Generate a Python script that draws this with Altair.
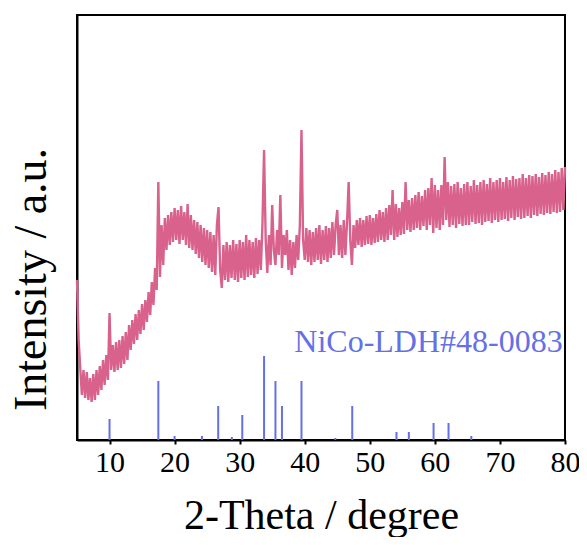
import altair as alt
import pandas as pd

# ---------------- data ----------------
# measured XRD pattern, sampled every 0.25 degree from 5 to 80 (2-Theta)
two_theta_start = 5.0
two_theta_step = 0.25
intensity = [
    # 5.00 - 9.75
    160, 100, 72, 45, 70, 42, 68, 40, 62, 38, 66, 40, 70, 45, 74, 50, 80, 55, 85, 60,
    # 10.00 - 14.75
    127, 70, 95, 68, 98, 70, 100, 72, 104, 76, 108, 80, 115, 90, 120, 96, 126, 100, 130, 106,
    # 15.00 - 19.75
    136, 110, 140, 118, 148, 125, 158, 135, 172, 150, 258, 163, 215, 175, 222, 190, 225, 195, 228, 198,
    # 20.00 - 24.75
    232, 200, 230, 196, 234, 200, 228, 195, 236, 192, 225, 190, 220, 186, 218, 182, 215, 178, 212, 175,
    # 25.00 - 29.75
    210, 172, 208, 168, 205, 165, 215, 233, 170, 152, 195, 160, 198, 158, 195, 162, 200, 160, 196, 158,
    # 30.00 - 34.75
    200, 162, 198, 160, 205, 163, 200, 165, 198, 162, 202, 166, 200, 170, 215, 290, 200, 167, 205, 175,
    # 35.00 - 39.75
    235, 190, 175, 210, 185, 245, 172, 205, 185, 210, 170, 200, 165, 198, 172, 205, 180, 215, 310, 200,
    # 40.00 - 44.75
    180, 212, 178, 210, 175, 208, 178, 212, 180, 215, 176, 210, 180, 214, 178, 212, 182, 218, 185, 215,
    # 45.00 - 49.75
    230, 185, 215, 182, 220, 185, 218, 258, 200, 175, 215, 192, 220, 195, 222, 193, 220, 195, 224, 196,
    # 50.00 - 54.75
    225, 195, 222, 197, 226, 198, 230, 200, 228, 198, 232, 200, 235, 205, 250, 200, 236, 203, 232, 205,
    # 55.00 - 59.75
    238, 206, 258, 210, 240, 208, 242, 210, 245, 212, 248, 210, 244, 214, 250, 210, 252, 215, 262, 207,
    # 60.00 - 64.75
    255, 212, 250, 210, 255, 215, 283, 220, 258, 213, 254, 215, 256, 212, 258, 216, 252, 214, 256, 215,
    # 65.00 - 69.75
    258, 215, 254, 218, 260, 216, 255, 217, 258, 215, 260, 218, 256, 219, 262, 217, 258, 220, 260, 218,
    # 70.00 - 74.75
    262, 220, 258, 221, 263, 219, 260, 222, 264, 220, 261, 223, 262, 221, 266, 222, 262, 224, 265, 222,
    # 75.00 - 79.75
    264, 225, 266, 224, 263, 226, 267, 225, 265, 227, 268, 226, 266, 228, 270, 227, 268, 228, 272, 230,
    # 80.00
    273,
]
two_theta = [two_theta_start + two_theta_step * i for i in range(len(intensity))]

# standard card NiCo-LDH #48-0083 reference lines
ref_positions = [10.0, 17.5, 20.0, 24.2, 26.7, 28.8, 30.4, 33.75, 35.5, 36.5,
                 39.5, 44.7, 47.3, 54.1, 56.0, 59.8, 62.1, 65.6]
ref_heights = [21, 59, 4, 4, 34, 3, 25, 84, 59, 34,
               59, 2, 34, 8, 8, 17, 17, 4]

label_text = ["NiCo-LDH#48-0083"]
label_x = [38.4]
label_y = [88]

x_ticks = [10, 15, 20, 25, 30, 35, 40, 45, 50, 55, 60, 65, 70, 75, 80]

# ---------------- chart ----------------
pattern_df = pd.DataFrame({"two_theta": two_theta, "intensity": intensity})
ref_df = pd.DataFrame({"two_theta": ref_positions, "height": ref_heights, "base": [0] * len(ref_positions)})
label_df = pd.DataFrame({"text": label_text, "x": label_x, "y": label_y})

FONT = "Liberation Serif"
PINK = "#D9628C"
BLUE = "#6470E6"

x_scale = alt.Scale(domain=[5, 80], nice=False, zero=False)
y_scale = alt.Scale(domain=[0, 425], nice=False, zero=False)

x_axis = alt.Axis(
    title="2-Theta / degree",
    values=x_ticks,
    labelExpr="datum.value % 10 == 0 ? datum.label : ''",
    grid=False,
    tickSize=4,
    tickWidth=2,
    tickColor="black",
    domainColor="black",
    domainWidth=2,
    labelFont=FONT,
    labelFontSize=30,
    labelColor="black",
    labelPadding=3,
    labelFlush=False,
    labelOverlap=False,
    titleFont=FONT,
    titleFontSize=42,
    titleFontWeight="normal",
    titleColor="black",
    titleBaseline="alphabetic",
    titleY=88,
)
y_axis = alt.Axis(
    title="Intensity / a.u.",
    labels=False,
    ticks=False,
    grid=False,
    domainColor="black",
    domainWidth=2,
    titleFont=FONT,
    titleFontSize=46,
    titleFontWeight="normal",
    titleColor="black",
    titleAngle=-90,
    titleBaseline="alphabetic",
    titleAlign="center",
    titleX=-32,
    titleY=264,
)

line = alt.Chart(pattern_df).mark_line(color=PINK, strokeWidth=2.4).encode(
    x=alt.X("two_theta:Q", scale=x_scale, axis=x_axis),
    y=alt.Y("intensity:Q", scale=y_scale, axis=y_axis),
)

sticks = alt.Chart(ref_df).mark_rule(color=BLUE, strokeWidth=2).encode(
    x=alt.X("two_theta:Q", scale=x_scale),
    y=alt.Y("base:Q", scale=y_scale),
    y2="height:Q",
)

label = alt.Chart(label_df).mark_text(
    font=FONT, fontSize=32, color=BLUE, align="left", baseline="alphabetic"
).encode(
    x=alt.X("x:Q", scale=x_scale),
    y=alt.Y("y:Q", scale=y_scale),
    text="text:N",
)

chart = (
    alt.layer(line, sticks, label)
    .properties(
        width=488,
        height=425,
        background="white",
        autosize=alt.AutoSizeParams(type="none"),
        padding={"left": 69, "top": 7, "right": 14, "bottom": 97},
    )
    .configure_view(stroke="black", strokeWidth=2)
)

chart.save("out.html", embed_options={"renderer": "svg", "actions": False})
